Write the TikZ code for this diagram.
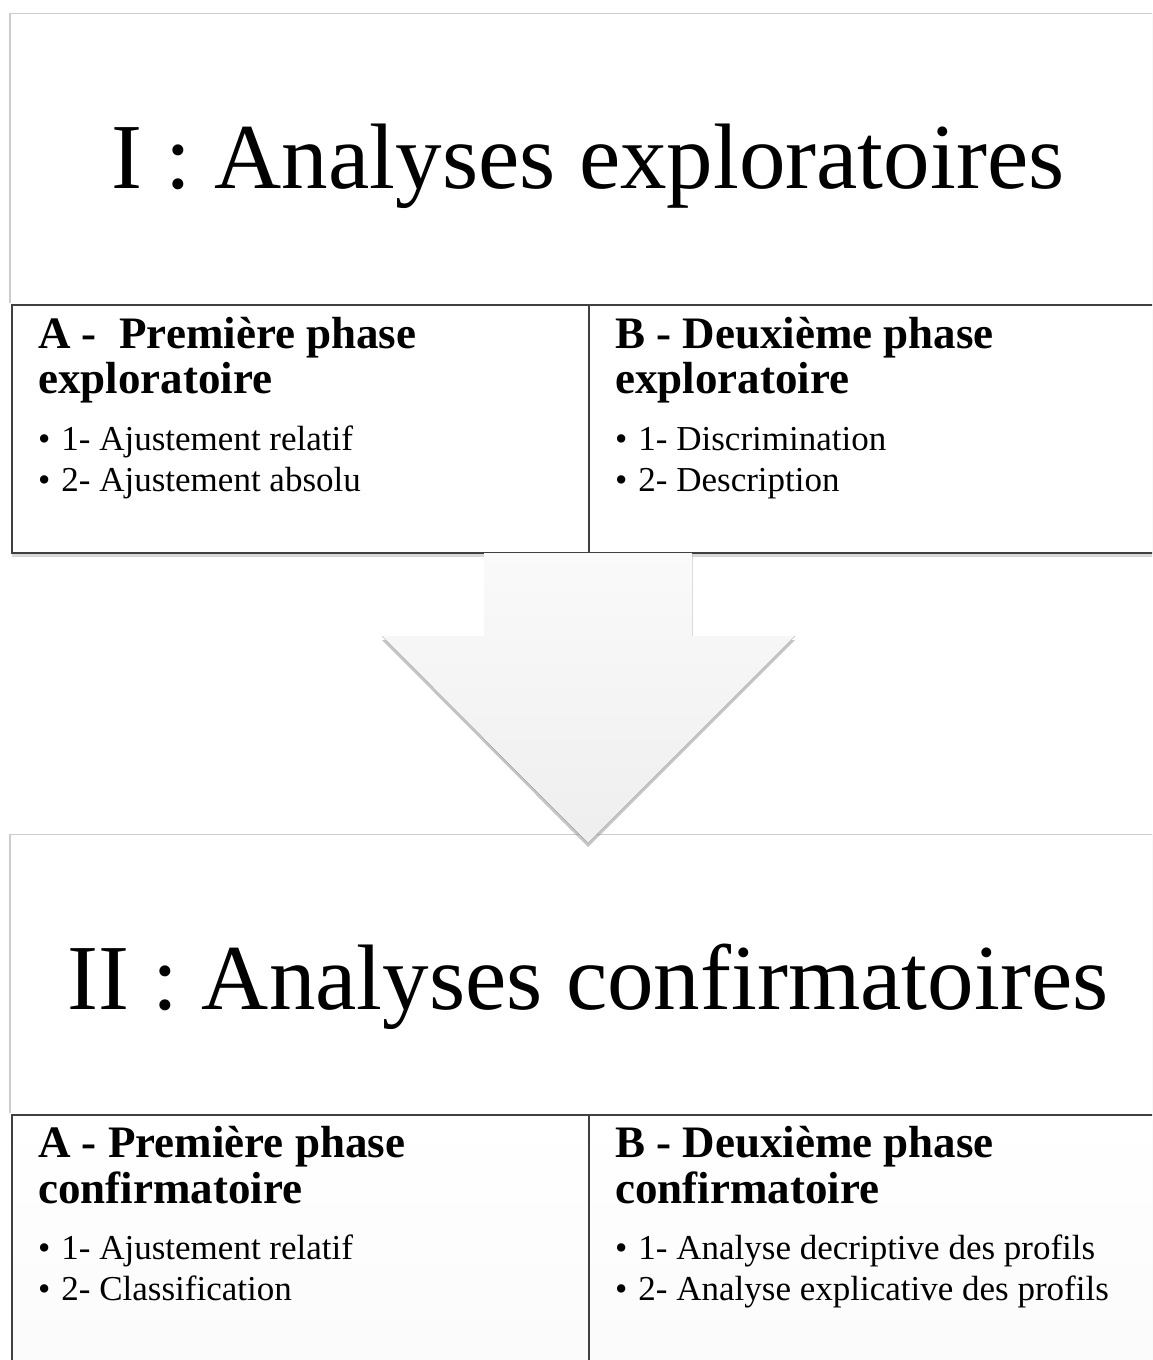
\documentclass[tikz,border=0pt]{standalone}
\usepackage{fontspec}
\setmainfont{Liberation Serif}
\usetikzlibrary{shadows}
\definecolor{boxline}{HTML}{404040}
\tikzset{
  headbox/.style={fill=white, inner sep=0pt, anchor=north west,
    drop shadow={shadow xshift=-2.5pt, shadow yshift=1.5pt, opacity=.4}},
  phasebox/.style={draw=boxline, line width=2pt, fill=white, inner sep=0pt, anchor=north west,
    minimum height=248pt, drop shadow={shadow xshift=0pt, shadow yshift=-4pt, opacity=.3}},
  bigtitle/.style={font=\fontsize{93}{93}\selectfont, anchor=base, inner sep=0pt},
  phasehead/.style={font=\fontsize{45}{45}\selectfont\bfseries, anchor=base west, inner sep=0pt},
  phaseitem/.style={font=\fontsize{35}{35}\selectfont, anchor=base west, inner sep=0pt},
}

\begin{document}
\begin{tikzpicture}[x=1pt,y=-1pt]
\useasboundingbox (0,0) rectangle (1152,1360);
\clip (0,0) rectangle (1152,1360);
\fill[white] (0,0) rectangle (1152,1360);

\node[headbox, minimum width=1160pt, minimum height=290pt] (hdrI) at (11,14) {};
\node[phasebox, minimum width=577pt] (phIA) at (11,304) {};
\node[phasebox, minimum width=600pt] (phIB) at (588,304) {};

\node[headbox, minimum width=1160pt, minimum height=279pt] (hdrII) at (11,835) {};
\node[phasebox, minimum width=577pt, minimum height=300pt, top color=white, bottom color=gray!4] (phIIA) at (11,1114) {};
\node[phasebox, minimum width=600pt, minimum height=300pt, top color=white, bottom color=gray!4] (phIIB) at (588,1114) {};

\node[bigtitle] (titI) at (588,188) {I : Analyses exploratoires};
\node[bigtitle] (titII) at (588,1009) {II : Analyses confirmatoires};

\node[phasehead] (hIA1) at (38,348) {A - \ Première phase};
\node[phasehead] (hIA2) at (38,393) {exploratoire};
\node[phaseitem] (iIA1) at (38,450) {•\kern11pt 1- Ajustement relatif};
\node[phaseitem] (iIA2) at (38,491) {•\kern11pt 2- Ajustement absolu};

\node[phasehead] (hIB1) at (615,348) {B - Deuxième phase};
\node[phasehead] (hIB2) at (615,393) {exploratoire};
\node[phaseitem] (iIB1) at (615,450) {•\kern11pt 1- Discrimination};
\node[phaseitem] (iIB2) at (615,491) {•\kern11pt 2- Description};

\node[phasehead] (hIIA1) at (38,1157) {A - Première phase};
\node[phasehead] (hIIA2) at (38,1203) {confirmatoire};
\node[phaseitem] (iIIA1) at (38,1259) {•\kern11pt 1- Ajustement relatif};
\node[phaseitem] (iIIA2) at (38,1300) {•\kern11pt 2- Classification};

\node[phasehead] (hIIB1) at (615,1157) {B - Deuxième phase};
\node[phasehead] (hIIB2) at (615,1203) {confirmatoire};
\node[phaseitem] (iIIB1) at (615,1259) {•\kern11pt 1- Analyse decriptive des profils};
\node[phaseitem] (iIIB2) at (615,1300) {•\kern11pt 2- Analyse explicative des profils};

\fill[top color=gray!4, bottom color=gray!13,
  drop shadow={shadow xshift=0pt, shadow yshift=-4pt, opacity=.45}]
  (484,553) -- (692,553) -- (692,636) -- (795,636) -- (588,843)
  -- (382,636) -- (484,636) -- cycle;
\end{tikzpicture}
\end{document}
